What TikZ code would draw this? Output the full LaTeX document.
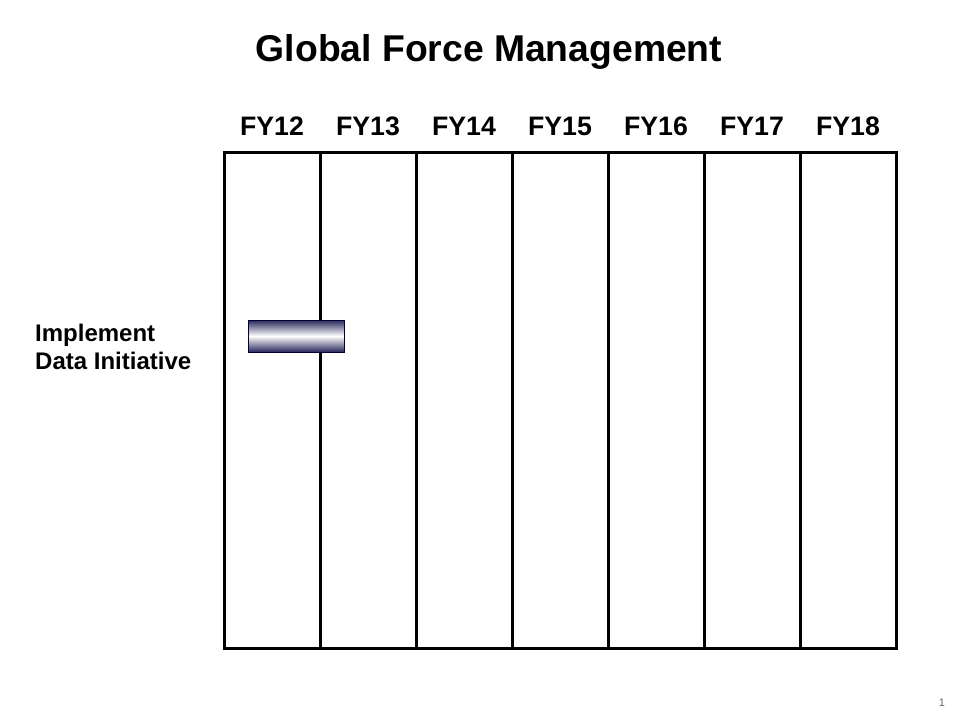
\documentclass[tikz,border=0pt]{standalone}
\usepackage{fontspec}
\setmainfont{Liberation Sans}
\begin{document}
\begin{tikzpicture}[x=1pt,y=-1pt,
  grid/.style={line width=3pt, line cap=rect},
  title/.style={font=\fontsize{37.3}{42}\selectfont\bfseries, anchor=base},
  year/.style={font=\fontsize{26.7}{30}\selectfont\bfseries, anchor=base},
  rowlabel/.style={font=\fontsize{24}{28}\selectfont\bfseries, anchor=base west, inner sep=0pt},
  taskbar/.style={draw=black!80!blue, line width=1pt, top color=navyblue, bottom color=navyblue, middle color=white}]
\definecolor{navyblue}{RGB}{40,38,90}
\useasboundingbox (0,0) rectangle (960,720);
\fill[white] (0,0) rectangle (960,720);

% title and fiscal-year header
\node[title] (title) at (489,61) {Global Force Management};
\foreach \yr [count=\i from 0] in {12,...,18}
  \node[year] (fy\yr) at (272+96*\i,135) {FY\yr};

% timeline grid
\draw[grid] (224,152) rectangle (896,648);
\foreach \i in {1,...,6}
  \draw[grid] (224+96*\i,152) -- (224+96*\i,648);

% task row
\node[rowlabel] (task1a) at (35,341) {Implement};
\node[rowlabel] (task1b) at (35,369) {Data Initiative};
\path[taskbar] (248,320) rectangle (344,352);

% slide number
\node[font=\fontsize{11}{13}\selectfont, text=black!60, anchor=base] (pagenum) at (942,706) {1};
\end{tikzpicture}
\end{document}
